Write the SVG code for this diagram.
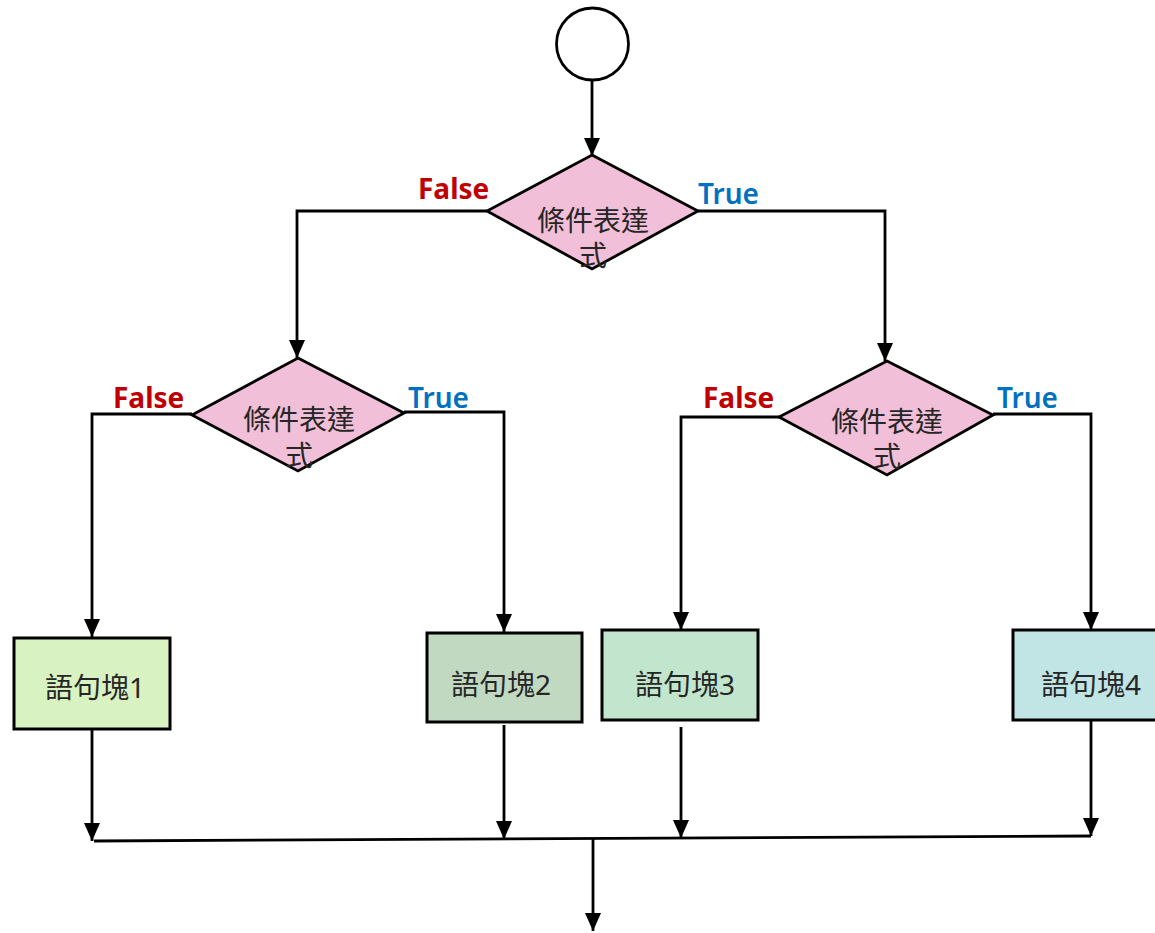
<svg xmlns="http://www.w3.org/2000/svg" width="1155" height="933" viewBox="0 0 1155 933">
<style>
.ln{fill:none;stroke:#000;stroke-width:2.8;stroke-linejoin:miter}
.dm{fill:#f1bfd8;stroke:#000;stroke-width:2.8}
.bx{stroke:#000;stroke-width:3}
.t{font-family:"Noto Sans","Noto Sans CJK TC",sans-serif;font-size:28px;fill:#262626;text-anchor:middle}
.f{font-family:"Noto Sans","Open Sans",sans-serif;font-size:28px;font-weight:bold;fill:#c00000}
.tr{font-family:"Noto Sans","Open Sans",sans-serif;font-size:28px;font-weight:600;fill:#0070c0}
</style>
<defs>
<marker id="ah" viewBox="0 0 18 16" refX="18" refY="8" markerWidth="18" markerHeight="16" markerUnits="userSpaceOnUse" orient="auto">
<path d="M0,0 L18,8 L0,16 z" fill="#000"/>
</marker>
</defs>
<rect width="1155" height="933" fill="#fff"/>
<g id="connectors">
<path class="ln" d="M592,81 V156" marker-end="url(#ah)"/>
<path class="ln" d="M487,211 H297 V358" marker-end="url(#ah)"/>
<path class="ln" d="M698,211 H885 V361" marker-end="url(#ah)"/>
<path class="ln" d="M192,414 H92 V637" marker-end="url(#ah)"/>
<path class="ln" d="M404,412 H504 V632" marker-end="url(#ah)"/>
<path class="ln" d="M779,417 H681 V630" marker-end="url(#ah)"/>
<path class="ln" d="M993,414 H1091 V630" marker-end="url(#ah)"/>
<path class="ln" d="M92,729 V841" marker-end="url(#ah)"/>
<path class="ln" d="M504,725 V839" marker-end="url(#ah)"/>
<path class="ln" d="M681,727 V838" marker-end="url(#ah)"/>
<path class="ln" d="M1091,720 V836" marker-end="url(#ah)"/>
<path class="ln" d="M94,841 L1091,836"/>
<path class="ln" d="M593,839 V931" marker-end="url(#ah)"/>
</g>
<g id="start"><circle cx="592.5" cy="44" r="36" fill="#fff" stroke="#000" stroke-width="2.8"/></g>
<g id="cond1">
<polygon class="dm" points="592,155 698,211 592,269 487,211"/>
<text class="t"><tspan x="593" y="231">條件表達</tspan><tspan x="593" y="266">式</tspan></text>
<text class="f" x="418" y="199">False</text>
<text class="tr" x="698" y="204">True</text>
</g>
<g id="cond2">
<polygon class="dm" points="298,358 404,413 298,471 192,415"/>
<text class="t"><tspan x="299" y="430">條件表達</tspan><tspan x="299" y="466">式</tspan></text>
<text class="f" x="113" y="408">False</text>
<text class="tr" x="408" y="408">True</text>
</g>
<g id="cond3">
<polygon class="dm" points="887,361 993,415 887,475 779,417"/>
<text class="t"><tspan x="887" y="432">條件表達</tspan><tspan x="887" y="467">式</tspan></text>
<text class="f" x="703" y="408">False</text>
<text class="tr" x="997" y="408">True</text>
</g>
<g id="block1">
<rect class="bx" x="14" y="638" width="156" height="91" fill="#d9f2c1"/>
<text class="t" x="95" y="698">語句塊1</text>
</g>
<g id="block2">
<rect class="bx" x="427" y="633" width="155" height="89" fill="#c1d9c1"/>
<text class="t" x="501" y="695">語句塊2</text>
</g>
<g id="block3">
<rect class="bx" x="602" y="630" width="156" height="90" fill="#c1e6cd"/>
<text class="t" x="685" y="695">語句塊3</text>
</g>
<g id="block4">
<rect class="bx" x="1013" y="630" width="160" height="90" fill="#c0e5e4"/>
<text class="t" x="1091" y="695">語句塊4</text>
</g>
</svg>
